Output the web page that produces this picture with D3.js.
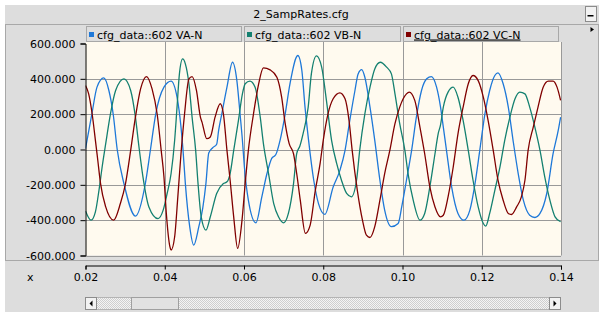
<!DOCTYPE html>
<html>
<head>
<meta charset="utf-8">
<script src="https://cdnjs.cloudflare.com/ajax/libs/d3/7.8.5/d3.min.js"></script>
<style>
  body { margin: 0; background: #fff; }
  text { font-family: "DejaVu Sans", sans-serif; font-size: 11px; fill: #000; }
</style>
</head>
<body>
<svg id="chart" width="603" height="316"></svg>
<script>

// chart texts
var chartTitle = "2_SampRates.cfg";
var seriesNames = ["cfg_data::602 VA-N", "cfg_data::602 VB-N", "cfg_data::602 VC-N"];
var seriesColors = ["#1e78d8", "#148070", "#800000"];
var xTicks = [0.02, 0.04, 0.06, 0.08, 0.10, 0.12, 0.14];
var yTicks = [-600, -400, -200, 0, 200, 400, 600];

// samples: [time s, value]
var vaN = [[0.0200,5],[0.0216,200],[0.0229,353],[0.0246,405],[0.0259,334],[0.0270,198],[0.0280,0],[0.0297,-193],[0.0326,-377],[0.0351,-193],[0.0364,0],[0.0377,198],[0.0398,353],[0.0416,387],[0.0431,296],[0.0441,127],[0.0446,0],[0.0452,-193],[0.0463,-437],[0.0473,-541],[0.0486,-437],[0.0496,-330],[0.0504,-190],[0.0511,-20],[0.0521,10],[0.0531,30],[0.0536,108],[0.0544,202],[0.0557,353],[0.0571,494],[0.0582,390],[0.0590,202],[0.0596,52],[0.0601,-99],[0.0611,-287],[0.0630,-415],[0.0645,-268],[0.0658,-136],[0.0670,-50],[0.0680,-30],[0.0691,52],[0.0704,202],[0.0716,372],[0.0736,532],[0.0746,447],[0.0754,240],[0.0763,52],[0.0776,-174],[0.0788,-306],[0.0804,-367],[0.0825,-212],[0.0842,-118],[0.0855,-5],[0.0867,165],[0.0880,334],[0.0888,428],[0.0897,452],[0.0905,409],[0.0918,240],[0.0930,52],[0.0943,-174],[0.0955,-343],[0.0972,-437],[0.0989,-419],[0.0998,-325],[0.1010,-174],[0.1023,-5],[0.1035,183],[0.1048,334],[0.1061,400],[0.1073,413],[0.1086,353],[0.1096,240],[0.1103,127],[0.1111,-5],[0.1124,-212],[0.1140,-362],[0.1155,-400],[0.1170,-343],[0.1183,-193],[0.1195,-5],[0.1208,202],[0.1220,334],[0.1233,419],[0.1241,434],[0.1254,372],[0.1267,240],[0.1279,52],[0.1292,-136],[0.1305,-287],[0.1321,-372],[0.1334,-385],[0.1347,-362],[0.1364,-249],[0.1380,-24],[0.1393,108],[0.1399,183]];

var vbN = [[0.0200,-348],[0.0214,-400],[0.0225,-353],[0.0234,-231],[0.0242,-99],[0.0251,33],[0.0263,202],[0.0276,334],[0.0297,400],[0.0314,334],[0.0326,183],[0.0335,14],[0.0345,-155],[0.0360,-325],[0.0383,-391],[0.0396,-343],[0.0406,-249],[0.0416,-136],[0.0425,52],[0.0431,240],[0.0437,428],[0.0445,513],[0.0452,485],[0.0461,372],[0.0469,183],[0.0478,-5],[0.0484,-193],[0.0492,-381],[0.0504,-456],[0.0515,-381],[0.0531,-249],[0.0548,-193],[0.0557,-183],[0.0565,-136],[0.0574,-5],[0.0586,165],[0.0596,315],[0.0603,372],[0.0615,387],[0.0628,353],[0.0641,183],[0.0649,33],[0.0662,-136],[0.0675,-306],[0.0687,-381],[0.0700,-415],[0.0712,-362],[0.0725,-193],[0.0733,-24],[0.0741,20],[0.0749,89],[0.0762,240],[0.0770,428],[0.0783,530],[0.0796,466],[0.0808,278],[0.0821,52],[0.0834,-80],[0.0846,-174],[0.0859,-249],[0.0871,-268],[0.0884,-174],[0.0892,-5],[0.0905,202],[0.0918,353],[0.0930,456],[0.0944,494],[0.0960,466],[0.0972,428],[0.0981,315],[0.0993,146],[0.1006,-5],[0.1014,-136],[0.1027,-287],[0.1044,-400],[0.1056,-362],[0.1069,-212],[0.1082,-24],[0.1090,89],[0.1096,140],[0.1103,240],[0.1115,325],[0.1128,353],[0.1140,296],[0.1153,165],[0.1166,-5],[0.1178,-174],[0.1191,-325],[0.1204,-419],[0.1210,-434],[0.1220,-362],[0.1233,-231],[0.1246,-99],[0.1258,52],[0.1271,183],[0.1284,287],[0.1296,325],[0.1309,315],[0.1321,240],[0.1334,127],[0.1347,-5],[0.1359,-155],[0.1372,-287],[0.1385,-381],[0.1399,-409]];

var vcN = [[0.0200,362],[0.0208,315],[0.0217,198],[0.0225,52],[0.0231,-61],[0.0238,-193],[0.0251,-325],[0.0271,-400],[0.0288,-306],[0.0301,-193],[0.0314,-5],[0.0326,183],[0.0339,343],[0.0354,413],[0.0368,343],[0.0381,198],[0.0391,-5],[0.0398,-155],[0.0404,-362],[0.0413,-550],[0.0416,-569],[0.0425,-494],[0.0433,-268],[0.0441,-24],[0.0450,202],[0.0461,400],[0.0469,413],[0.0480,334],[0.0490,183],[0.0494,155],[0.0506,61],[0.0515,71],[0.0527,183],[0.0540,259],[0.0548,202],[0.0557,-5],[0.0565,-174],[0.0574,-381],[0.0584,-560],[0.0595,-400],[0.0603,-193],[0.0611,-5],[0.0624,202],[0.0637,372],[0.0649,462],[0.0666,451],[0.0683,409],[0.0695,296],[0.0704,146],[0.0714,33],[0.0725,-24],[0.0733,-136],[0.0742,-287],[0.0755,-475],[0.0767,-428],[0.0780,-231],[0.0792,-80],[0.0800,52],[0.0812,202],[0.0825,287],[0.0842,321],[0.0855,287],[0.0865,165],[0.0873,-5],[0.0886,-231],[0.0899,-400],[0.0909,-485],[0.0918,-498],[0.0930,-437],[0.0943,-287],[0.0955,-136],[0.0968,-5],[0.0981,146],[0.0993,240],[0.1010,315],[0.1017,325],[0.1031,278],[0.1044,127],[0.1056,-24],[0.1069,-212],[0.1082,-325],[0.1096,-381],[0.1103,-372],[0.1115,-268],[0.1128,-99],[0.1140,89],[0.1153,240],[0.1166,372],[0.1178,419],[0.1191,390],[0.1204,296],[0.1216,165],[0.1229,-5],[0.1241,-174],[0.1254,-287],[0.1267,-362],[0.1275,-368],[0.1288,-325],[0.1300,-268],[0.1309,-174],[0.1317,-5],[0.1330,127],[0.1342,240],[0.1355,353],[0.1368,387],[0.1380,387],[0.1390,353],[0.1399,278]];

var allSeries = [vaN, vbN, vcN];

var plotLeft = 85.5, plotRight = 561, plotTop = 42, plotBottom = 255.5;

var svg = d3.select("#chart");

/** panel background **/
svg.append("rect")
  .attr("x", 5).attr("y", 5).attr("width", 594).attr("height", 307)
  .attr("fill", "#dddddd");

// title bar
svg.append("text")
  .attr("x", 301).attr("y", 18)
  .style("text-anchor", "middle")
  .text(chartTitle);

svg.append("rect")
  .attr("x", 585.5).attr("y", 6.5).attr("width", 11).attr("height", 15)
  .attr("fill", "#f2f2f2").attr("stroke", "#8c8c8c");
svg.append("rect")
  .attr("x", 587.5).attr("y", 15).attr("width", 6).attr("height", 1.5)
  .attr("fill", "#000");

// chart frame
svg.append("rect")
  .attr("x", 5.5).attr("y", 24.5).attr("width", 593).attr("height", 236)
  .attr("fill", "none").attr("stroke", "#a8a8a8");

/** scales **/
var x = d3.scaleLinear().domain([0.02, 0.14]).range([plotLeft, plotRight]);
var y = d3.scaleLinear().domain([-600, 600]).range([plotBottom, 43.5]);

// plot area
svg.append("rect")
  .attr("x", plotLeft).attr("y", plotTop)
  .attr("width", plotRight - plotLeft).attr("height", plotBottom - plotTop)
  .attr("fill", "#fffaef");

/** grid **/
svg.append("g").selectAll("line")
  .data(xTicks.slice(1))
  .enter().append("line")
    .attr("x1", function(d) { return Math.round(x(d)) + 0.5; })
    .attr("x2", function(d) { return Math.round(x(d)) + 0.5; })
    .attr("y1", plotTop).attr("y2", plotBottom)
    .attr("stroke", "#999999");

svg.append("g").selectAll("line")
  .data(yTicks.slice(0, -1))
  .enter().append("line")
    .attr("x1", plotLeft).attr("x2", plotRight)
    .attr("y1", function(d) { return Math.round(y(d)) + 0.5; })
    .attr("y2", function(d) { return Math.round(y(d)) + 0.5; })
    .attr("stroke", "#999999");

/** legend **/
var legend = svg.append("g").selectAll("g")
  .data(seriesNames)
  .enter().append("g");

legend.append("rect")
  .attr("x", function(d, i) { return Math.round(x(0.02 + 0.04 * i)) + 0.5; })
  .attr("y", 26.5)
  .attr("width", function(d, i) { return Math.round(x(0.06 + 0.04 * i)) - Math.round(x(0.02 + 0.04 * i)) - 3; })
  .attr("height", 15)
  .attr("fill", "#dddddd").attr("stroke", "#a8a8a8");

legend.append("rect")
  .attr("x", function(d, i) { return Math.round(x(0.02 + 0.04 * i)) + 3; })
  .attr("y", 32).attr("width", 5).attr("height", 5)
  .attr("fill", function(d, i) { return seriesColors[i]; });

legend.append("text")
  .attr("x", function(d, i) { return Math.round(x(0.02 + 0.04 * i)) + 11; })
  .attr("y", 38.5)
  .style("text-decoration", function(d, i) { return i == 2 ? "underline" : "none"; })
  .text(function(d) { return d; });

svg.append("path")
  .attr("d", "M590.5,27 L594,29.5 L590.5,32 Z")
  .attr("fill", "#000");

/** lines **/
svg.append("clipPath").attr("id", "clip")
  .append("rect")
  .attr("x", plotLeft).attr("y", plotTop)
  .attr("width", plotRight - plotLeft).attr("height", plotBottom - plotTop);

var line = d3.line()
  .x(function(d) { return x(d[0]); })
  .y(function(d) { return y(d[1]); })
  .curve(d3.curveMonotoneX);

svg.append("g").attr("clip-path", "url(#clip)")
  .selectAll("path")
  .data(allSeries)
  .enter().append("path")
    .attr("d", line)
    .attr("fill", "none")
    .attr("stroke-width", 1.3)
    .attr("stroke", function(d, i) { return seriesColors[i]; });

/** axes **/
var yAxis = d3.axisLeft(y)
  .tickValues(yTicks)
  .tickSize(5)
  .tickPadding(5)
  .tickFormat(function(d) { return d.toFixed(3); });

svg.append("g")
  .attr("transform", "translate(" + plotLeft + ",0)")
  .call(yAxis)
  .call(function(g) { g.selectAll("text").style("font-size", "11px").style("font-family", "DejaVu Sans"); });

var xAxis = d3.axisBottom(x)
  .tickValues(xTicks)
  .tickSize(4)
  .tickPadding(4)
  .tickFormat(function(d) { return d.toFixed(2); });

svg.append("g")
  .attr("transform", "translate(0,265.5)")
  .call(xAxis)
  .call(function(g) { g.selectAll("text").style("font-size", "11px").style("font-family", "DejaVu Sans"); });

svg.append("text")
  .attr("x", 27).attr("y", 281)
  .text("x");

/** scrollbar **/
var checker = svg.append("defs").append("pattern")
  .attr("id", "checker").attr("width", 2).attr("height", 2)
  .attr("patternUnits", "userSpaceOnUse");
checker.append("rect").attr("width", 2).attr("height", 2).attr("fill", "#f4f4f4");
checker.append("rect").attr("width", 1).attr("height", 1).attr("fill", "#cfcfcf");
checker.append("rect").attr("x", 1).attr("y", 1).attr("width", 1).attr("height", 1).attr("fill", "#cfcfcf");

svg.append("rect")
  .attr("x", 96.5).attr("y", 297.5).attr("width", 453).attr("height", 12)
  .attr("fill", "url(#checker)").attr("stroke", "#b4b4b4");

svg.append("rect")
  .attr("x", 131.5).attr("y", 297.5).attr("width", 47).attr("height", 12)
  .attr("fill", "#e2e2e2").attr("stroke", "#a0a0a0");

svg.append("rect")
  .attr("x", 85.5).attr("y", 297.5).attr("width", 11).attr("height", 12)
  .attr("fill", "#f2f2f2").attr("stroke", "#8c8c8c");
svg.append("path").attr("d", "M92.5,300.5 L89.5,303.5 L92.5,306.5 Z").attr("fill", "#000");

svg.append("rect")
  .attr("x", 549.5).attr("y", 297.5).attr("width", 11).attr("height", 12)
  .attr("fill", "#f2f2f2").attr("stroke", "#8c8c8c");
svg.append("path").attr("d", "M553.5,300.5 L556.5,303.5 L553.5,306.5 Z").attr("fill", "#000");

</script>
</body>
</html>
